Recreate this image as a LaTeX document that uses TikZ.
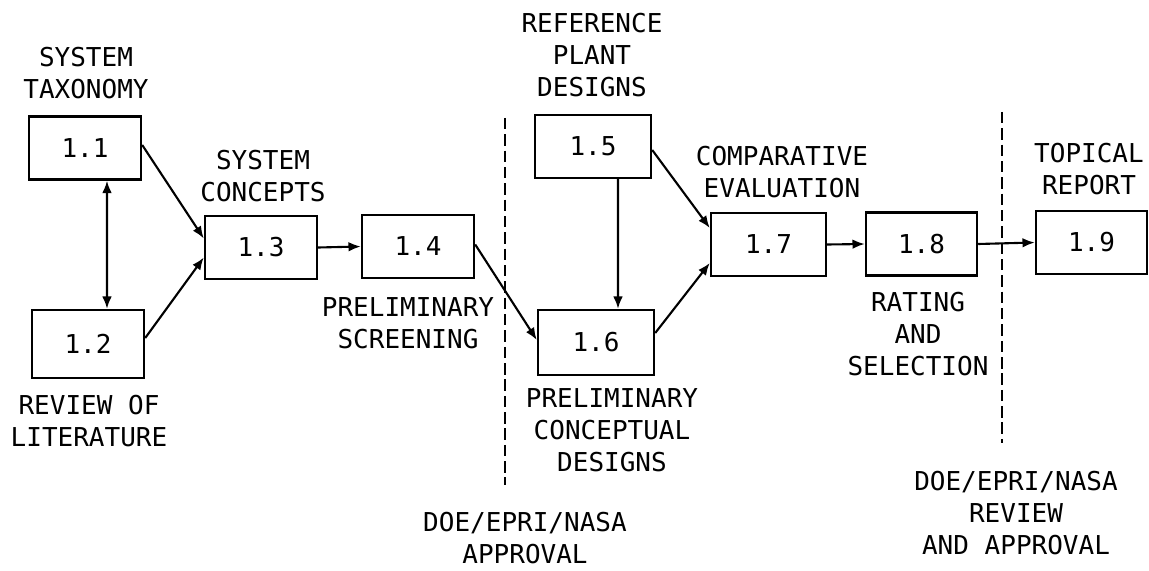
\documentclass[tikz,border=0pt]{standalone}
\usepackage{fontspec}
\setmonofont{DejaVu Sans Mono}
\usepackage{tikz}
\usetikzlibrary{arrows.meta}

\begin{document}
\begin{tikzpicture}[x = .02cm, y = {(0cm, -.02cm)}, >={Latex[length=7pt, width=5.5pt]},
  every node/.style = {font = \ttfamily\fontsize{14.8}{18.2}\selectfont},
  task/.style = {draw, line width = 1.4pt, minimum width = 2.24cm, minimum height = 1.26cm, inner sep = 0pt},
  caption/.style = {align = center, inner sep = 0pt},
  border/.style = {line width = 1.1pt, dash pattern = on 6.5pt off 2.8pt}]
\def\lw{1.2pt}
\useasboundingbox (0, 0) rectangle (1149, 571);

\node [task] (b11) at (85, 148) {1.1};
\node [task, minimum height = 1.36cm] (b12) at (88, 344) {1.2};
\node [task] (b13) at (261, 247.5) {1.3};
\node [task] (b14) at (418, 246.5) {1.4};
\node [task, minimum width = 2.32cm] (b15) at (593, 146.5) {1.5};
\node [task, minimum width = 2.32cm, minimum height = 1.3cm] (b16) at (596, 342.5) {1.6};
\node [task, minimum width = 2.3cm] (b17) at (768.5, 244.5) {1.7};
\node [task, minimum width = 2.22cm] (b18) at (921.5, 244) {1.8};
\node [task, minimum width = 2.22cm] (b19) at (1091.5, 242.5) {1.9};

\node [caption] (t11) at (86, 73.5) {SYSTEM\\TAXONOMY};
\node [caption] (t12) at (89, 421) {REVIEW OF\\LITERATURE};
\node [caption] (t13) at (263, 176) {SYSTEM\\CONCEPTS};
\node [caption] (t14) at (408, 323.5) {PRELIMINARY\\SCREENING};
\node [caption] (t15) at (592, 55) {REFERENCE\\PLANT\\DESIGNS};
\node [caption] (t16) at (612, 430) {PRELIMINARY\\CONCEPTUAL\\DESIGNS};
\node [caption] (t17) at (782, 172.5) {COMPARATIVE\\EVALUATION};
\node [caption] (t18) at (918, 334) {RATING\\AND\\SELECTION};
\node [caption] (t19) at (1089, 169) {TOPICAL\\REPORT};
\node [caption] (ok1) at (525, 538) {DOE/EPRI/NASA\\APPROVAL};
\node [caption] (ok2) at (1016, 513) {DOE/EPRI/NASA\\REVIEW\\AND APPROVAL};

\coordinate (d1t) at (505, 118);
\coordinate (d1b) at (505, 485);
\coordinate (d2t) at (1002, 112);
\coordinate (d2b) at (1002, 443);
\draw [border] (d1t) -- (d1b);
\draw [border] (d2t) -- (d2b);

\draw [->, line width = \lw] ([yshift = .06cm] b11.east) -- ([yshift = .18cm] b13.west);
\draw [->, line width = \lw] ([yshift = .12cm] b12.east) -- ([yshift = -.2cm] b13.west);
\draw [<->, line width = \lw] ([xshift = .44cm] b11.south) -- ([xshift = .38cm] b12.north);
\draw [->, line width = \lw] (b13.east) -- (b14.west);
\draw [->, line width = \lw] ([yshift = .04cm] b14.east) -- ([yshift = .05cm] b16.west);
\draw [->, line width = \lw] ([xshift = .5cm] b15.south) -- ([xshift = .44cm] b16.north);
\draw [->, line width = \lw] ([yshift = -.07cm] b15.east) -- ([yshift = .33cm] b17.west);
\draw [->, line width = \lw] ([yshift = .19cm] b16.east) -- ([yshift = -.37cm] b17.west);
\draw [->, line width = \lw] (b17.east) -- (b18.west);
\draw [->, line width = \lw] (b18.east) -- (b19.west);
\end{tikzpicture}
\end{document}
